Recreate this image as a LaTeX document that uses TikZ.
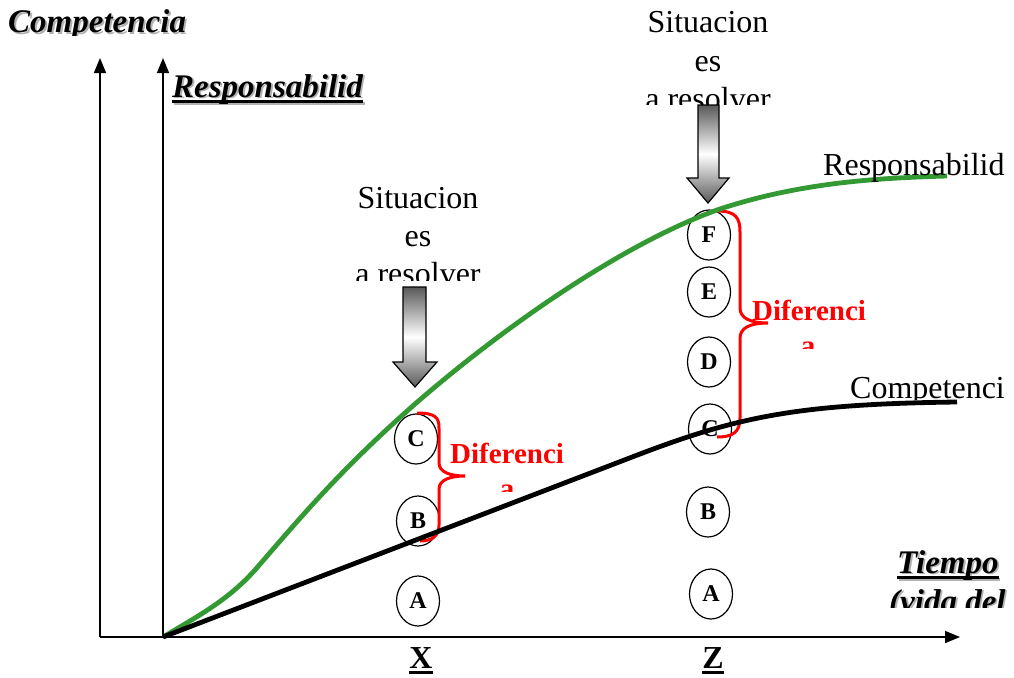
\documentclass[tikz,border=0pt]{standalone}
\usepackage{fontspec}
\setmainfont{Liberation Serif}
\usepackage{xcolor}
\usetikzlibrary{calc,arrows.meta,positioning,shapes.geometric}

\definecolor{respgreen}{RGB}{51,153,51}
\definecolor{diffred}{RGB}{255,0,0}

% underline with a thick rule
\newcommand{\ulrule}[1]{\setbox0\hbox{#1}\rlap{\rule[-6pt]{\wd0}{3pt}}\box0}
% label with a grey drop shadow: style, name, position, text
\newcommand{\castlabel}[4]{%
  \node[#1, text=black!30] at ([shift={(1.8,1.8)}]#3) {#4};
  \node[#1] (#2) at (#3) {#4};}

\begin{document}
\begin{tikzpicture}[x=1pt,y=-1pt,
    axis/.style={line width=1.6pt,-{Triangle[length=15pt,width=12pt]}},
    curveresp/.style={respgreen,line width=4.8pt},
    curvecomp/.style={black,line width=4.8pt},
    brace/.style={diffred,line width=3pt},
    stepnode/.style={ellipse,draw,line width=1.2pt,minimum width=43pt,minimum height=50pt,
      inner sep=0pt,font=\bfseries\fontsize{24}{24}\selectfont},
    blockarrow/.style={draw,line width=1.2pt,line join=miter,
      top color=black!65,bottom color=black!65,middle color=white},
    titlebi/.style={font=\bfseries\itshape\fontsize{33}{38}\selectfont,inner sep=0pt,anchor=base west},
    situtext/.style={font=\fontsize{32}{38}\selectfont,inner sep=0pt},
    difftext/.style={diffred,font=\bfseries\fontsize{29}{35}\selectfont,inner sep=0pt},
    axislabel/.style={font=\bfseries\fontsize{32}{38}\selectfont,inner sep=0pt,anchor=base},
  ]
    \useasboundingbox (0,0) rectangle (1014,677);

    % axes
    \coordinate (origA) at (100,637);
    \coordinate (origB) at (163,637);
    \coordinate (topA) at (100,58);
    \coordinate (topB) at (163,58);
    \coordinate (endT) at (960,637);
    \draw[axis] (origA) -- (endT);
    \draw[axis] (origA) -- (topA);
    \draw[axis] (origB) -- (topB);

    % steps at X and Z
    \node[stepnode] (xC) at (416,439) {C};
    \node[stepnode] (xB) at (418,521) {B};
    \node[stepnode] (xA) at (418,601) {A};
    \node[stepnode] (zF) at (709,235) {F};
    \node[stepnode] (zE) at (709,292) {E};
    \node[stepnode] (zD) at (709,362) {D};
    \node[stepnode] (zC) at (710,429) {C};
    \node[stepnode] (zB) at (708,512) {B};
    \node[stepnode] (zA) at (711,594) {A};

    % braces
    \draw[brace] (417,413) .. controls (436,413) and (439,418) .. (439,428) -- (439,463)
        .. controls (439,472) and (450,476) .. (465,476)
        .. controls (450,476) and (439,480) .. (439,489) -- (439,525)
        .. controls (439,536) and (432,541) .. (420,541);
    \draw[brace] (717,211) .. controls (736,211) and (740,218) .. (740,232) -- (740,308)
        .. controls (740,318) and (750,323) .. (768,323)
        .. controls (750,323) and (740,328) .. (740,338) -- (740,418)
        .. controls (740,432) and (733,437) .. (717,437);

    % curves
    \draw[curveresp] (origB) .. controls (200,615) and (228,600) .. (255,570)
        .. controls (300,518) and (340,470) .. (415,404)
        .. controls (500,330) and (620,245) .. (717,210)
        .. controls (800,182) and (880,178) .. (947,176);
    \draw[curvecomp] (origB) -- (640,454) .. controls (740,416) and (800,404) .. (957,402);

    % block arrows
    \path[blockarrow] (403,287) -- (426,287) -- (426,362) -- (437,362) -- (415,387)
        -- (393,362) -- (403,362) -- cycle;
    \path[blockarrow] (698,105) -- (719,105) -- (719,178) -- (729,178) -- (708,203)
        -- (687,178) -- (698,178) -- cycle;

    % texts
    \begin{scope}
        \clip (0,0) rectangle (300,36);
        \castlabel{titlebi}{lblComp}{8,33}{Competencia}
    \end{scope}
    \castlabel{titlebi}{lblResp}{172,97}{\ulrule{Responsabilid}}
    \castlabel{titlebi}{lblTiempo}{897,573}{\ulrule{Tiempo}}
    \begin{scope}
        \clip (850,585) rectangle (1014,607);
        \castlabel{titlebi}{lblVida}{889,612}{(vida del}
    \end{scope}

    \begin{scope}
        \clip (330,150) rectangle (510,280);
        \node[situtext,anchor=base] (sitX1) at (418,208) {Situacion};
        \node[situtext,anchor=base] (sitX2) at (418,246) {es};
        \node[situtext,anchor=base] (sitX3) at (418,284) {a resolver};
    \end{scope}
    \begin{scope}
        \clip (620,0) rectangle (800,104);
        \node[situtext,anchor=base] (sitZ1) at (708,33) {Situacion};
        \node[situtext,anchor=base] (sitZ2) at (708,71) {es};
        \node[situtext,anchor=base] (sitZ3) at (708,109) {a resolver};
    \end{scope}

    \node[situtext,anchor=base west] (lblRespR) at (823,175) {Responsabilid};
    \begin{scope}
        \clip (840,350) rectangle (1014,399);
        \node[situtext,anchor=base west] (lblCompR) at (850,398) {Competenci};
    \end{scope}

    \node[difftext,anchor=base west] (difX) at (450,463) {Diferenci};
    \begin{scope}
        \clip (480,470) rectangle (540,491);
        \node[difftext,anchor=base] (difXa) at (507,498) {a};
    \end{scope}
    \node[difftext,anchor=base west] (difZ) at (752,320) {Diferenci};
    \begin{scope}
        \clip (780,330) rectangle (840,348);
        \node[difftext,anchor=base] (difZa) at (808,355) {a};
    \end{scope}

    \node[axislabel] (lblX) at (421,668) {\ulrule{X}};
    \node[axislabel] (lblZ) at (713,668) {\ulrule{Z}};
\end{tikzpicture}
\end{document}
